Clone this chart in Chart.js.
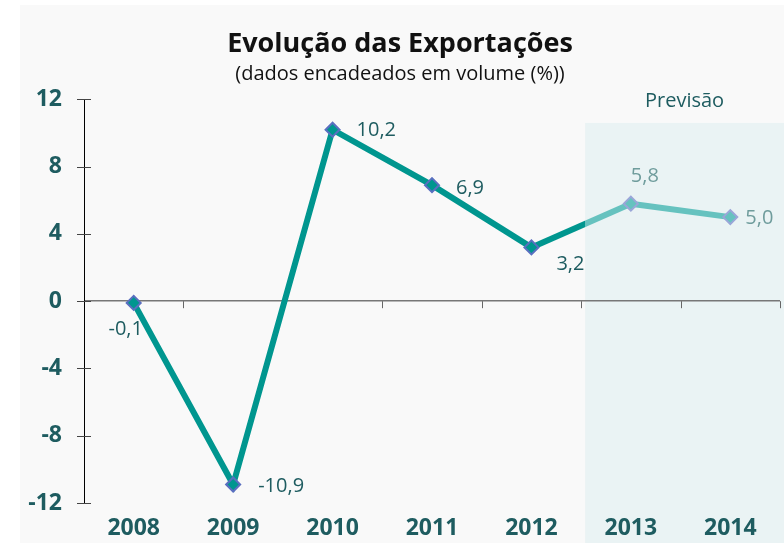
<!DOCTYPE html>
<html>
<head>
<meta charset="utf-8">
<script src="https://cdn.jsdelivr.net/npm/chart.js@4.4.1/dist/chart.umd.min.js"></script>
<style>
  html, body { margin: 0; padding: 0; background: #ffffff; }
  #wrap { width: 784px; height: 543px; position: relative; }
</style>
</head>
<body>
<div id="wrap"><canvas id="grafico"></canvas></div>
<script>
// --- Dados ---
const anos = ['2008', '2009', '2010', '2011', '2012', '2013', '2014'];
const exportacoes = [-0.1, -10.9, 10.2, 6.9, 3.2, 5.8, 5.0];
const rotulos = ['-0,1', '-10,9', '10,2', '6,9', '3,2', '5,8', '5,0'];
const ticksY = [-12, -8, -4, 0, 4, 8, 12];
const inicioPrevisao = 5; // índice do primeiro ano previsto (2013)
const topoPrevisao = 10.6; // altura da caixa "Previsão" em unidades do eixo

// --- Estilo ---
const corReal = '#00968f';
const corPrev = '#66c2bf';
const corTexto = '#1e5c60';
const corTextoPrev = '#6f9c9c';
const fonte = '"Open Sans", "DejaVu Sans", sans-serif';

// posição dos rótulos em relação ao ponto: [dx, dy, alinhamento]
const posRotulos = [
    [-8, 26, 'center'], [25, 2, 'left'], [24, 1, 'left'], [24, 3, 'left'],
    [39, 17, 'center'], [14, -27, 'center'], [15, 1, 'left']
];

function limitePrevisao(chart) {
    const x = chart.scales.x;
    return (x.getPixelForValue(inicioPrevisao - 1) + x.getPixelForValue(inicioPrevisao)) / 2 + 4;
}

// Fundo do painel + área de previsão
const fundoPlugin = {
    id: 'fundo',
    beforeDraw(chart) {
        const ctx = chart.ctx;
        ctx.save();
        ctx.fillStyle = '#f9f9f9';
        ctx.fillRect(20, 5, chart.width - 20, chart.height - 5);
        const xs = limitePrevisao(chart);
        const yTop = chart.scales.y.getPixelForValue(topoPrevisao);
        ctx.fillStyle = '#eaf3f4';
        ctx.fillRect(xs, yTop, chart.width - xs, chart.height - yTop);
        ctx.fillStyle = corTexto;
        ctx.font = '20px ' + fonte;
        ctx.textAlign = 'center';
        ctx.textBaseline = 'middle';
        ctx.fillText('Previsão', (xs + chart.width) / 2, yTop - 22);
        ctx.restore();
    },
    beforeDatasetsDraw(chart) {
        const ctx = chart.ctx;
        const x = chart.scales.x, y = chart.scales.y;
        const y0 = y.getPixelForValue(0);
        ctx.save();
        ctx.lineWidth = 1;
        // marcas do eixo Y
        ctx.strokeStyle = '#444';
        ticksY.forEach(v => {
            const py = Math.round(y.getPixelForValue(v)) + 0.5;
            ctx.beginPath();
            ctx.moveTo(x.left - 7, py);
            ctx.lineTo(x.left + 7, py);
            ctx.stroke();
        });
        // marcas do eixo X (entre categorias)
        ctx.strokeStyle = '#666';
        for (let i = 1; i <= anos.length; i++) {
            const px = Math.round(i < anos.length
                ? (x.getPixelForValue(i - 1) + x.getPixelForValue(i)) / 2
                : x.right) + 0.5;
            ctx.beginPath();
            ctx.moveTo(px, y0);
            ctx.lineTo(px, y0 + 7);
            ctx.stroke();
        }
        ctx.restore();
    },
    afterDatasetsDraw(chart) {
        const ctx = chart.ctx;
        const meta = chart.getDatasetMeta(0);
        ctx.save();
        ctx.font = '20px ' + fonte;
        ctx.textBaseline = 'middle';
        meta.data.forEach((pt, i) => {
            const p = posRotulos[i];
            ctx.fillStyle = i >= inicioPrevisao ? corTextoPrev : corTexto;
            ctx.textAlign = p[2];
            ctx.fillText(rotulos[i], pt.x + p[0], pt.y + p[1]);
        });
        ctx.restore();
    }
};

const ctxG = document.getElementById('grafico').getContext('2d');
new Chart(ctxG, {
    type: 'line',
    data: {
        labels: anos,
        datasets: [{
            data: exportacoes,
            borderWidth: 6,
            tension: 0,
            pointStyle: 'rectRot',
            pointRadius: 7,
            pointHoverRadius: 7,
            pointBorderWidth: 2,
            pointBackgroundColor: c => c.dataIndex >= inicioPrevisao ? corPrev : corReal,
            pointBorderColor: c => c.dataIndex >= inicioPrevisao ? '#9aa6d8' : '#5a6fc0',
            borderColor: corReal,
            segment: {
                borderColor: c => {
                    if (c.p1DataIndex < inicioPrevisao) return corReal;
                    if (c.p0DataIndex >= inicioPrevisao) return corPrev;
                    const xs = limitePrevisao(c.chart);
                    const f = Math.min(1, Math.max(0, (xs - c.p0.x) / (c.p1.x - c.p0.x)));
                    const g = c.chart.ctx.createLinearGradient(c.p0.x, 0, c.p1.x, 0);
                    g.addColorStop(0, corReal);
                    g.addColorStop(f, corReal);
                    g.addColorStop(f, corPrev);
                    g.addColorStop(1, corPrev);
                    return g;
                }
            }
        }]
    },
    options: {
        responsive: true, maintainAspectRatio: false, animation: false,
        layout: { autoPadding: false, padding: { top: 10, left: 20, right: 4, bottom: 0 } },
        plugins: {
            legend: { display: false },
            tooltip: { enabled: false },
            title: {
                display: true, text: 'Evolução das Exportações', color: '#111',
                font: { family: fonte, size: 27, weight: 'bold' },
                padding: { top: 18, bottom: 0 }
            },
            subtitle: {
                display: true, text: '(dados encadeados em volume (%))', color: '#111',
                font: { family: fonte, size: 20 },
                padding: { top: 2, bottom: 13 }
            }
        },
        scales: {
            x: {
                offset: true,
                afterFit: s => { s.height = 40; s.paddingLeft = 0; s.paddingRight = 0; },
                grid: { display: false, drawTicks: false },
                border: { display: false },
                ticks: { color: corTexto, padding: 12, font: { family: fonte, size: 23, weight: 'bold' } }
            },
            y: {
                min: -12, max: 12,
                afterFit: s => { s.width = 64; s.paddingTop = 0; s.paddingBottom = 0; },
                afterBuildTicks: s => { s.ticks = ticksY.map(v => ({ value: v })); },
                grid: {
                    drawTicks: false,
                    color: c => c.tick && c.tick.value === 0 ? '#777' : 'rgba(0,0,0,0)',
                    lineWidth: 1.5
                },
                border: { display: true, color: '#000', width: 1 },
                ticks: { color: corTexto, padding: 22, font: { family: fonte, size: 23, weight: 'bold' } }
            }
        }
    },
    plugins: [fundoPlugin]
});
</script>
</body>
</html>
